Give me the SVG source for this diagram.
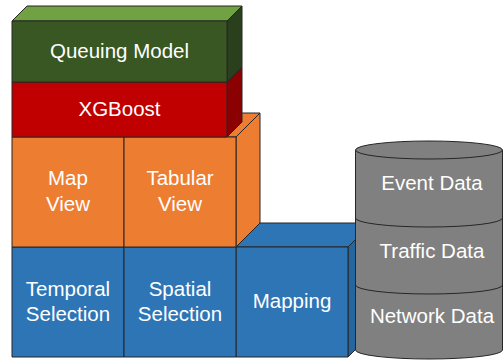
<svg xmlns="http://www.w3.org/2000/svg" width="503" height="362" viewBox="0 0 503 362">
<style>
.s{stroke:#262626;stroke-width:1;stroke-linejoin:round}
.t{font-family:"Liberation Sans",Arial,Helvetica,sans-serif;font-size:20.5px;fill:#ffffff;text-anchor:middle}
</style>
<rect width="503" height="362" fill="#ffffff"/>
<g id="mapping">
<polygon class="s" points="236,247 260,223 380,223 356,247" fill="#2e75b6"/>
<polygon class="s" points="348,247 372,223 372,333 348,357" fill="#2565a0"/>
<rect class="s" x="236" y="247" width="112" height="110" fill="#2e75b6"/>
<text class="t" x="292" y="308">Mapping</text>
</g>
<g id="temporal-selection">
<rect class="s" x="12" y="247" width="112" height="110" fill="#2e75b6"/>
<text class="t" x="68" y="296">Temporal</text>
<text class="t" x="68" y="321">Selection</text>
</g>
<g id="spatial-selection">
<rect class="s" x="124" y="247" width="112" height="110" fill="#2e75b6"/>
<text class="t" x="180" y="296">Spatial</text>
<text class="t" x="180" y="321">Selection</text>
</g>
<g id="views-box">
<polygon class="s" points="12,137 36,113 260,113 236,137" fill="#ed7d31"/>
<polygon class="s" points="236,137 260,113 260,223 236,247" fill="#ed7d31"/>
</g>
<g id="map-view">
<rect class="s" x="12" y="137" width="112" height="110" fill="#ed7d31"/>
<text class="t" x="68" y="185">Map</text>
<text class="t" x="68" y="211">View</text>
</g>
<g id="tabular-view">
<rect class="s" x="124" y="137" width="112" height="110" fill="#ed7d31"/>
<text class="t" x="180" y="185">Tabular</text>
<text class="t" x="180" y="211">View</text>
</g>
<g id="xgboost">
<polygon class="s" points="227,82 242,67 242,122 227,137" fill="#8b0000"/>
<rect class="s" x="12" y="82" width="215" height="55" fill="#c00000"/>
<text class="t" x="119.5" y="116">XGBoost</text>
</g>
<g id="queuing-model">
<polygon class="s" points="12,21 27,6 242,6 227,21" fill="#70a143"/>
<polygon class="s" points="227,21 242,6 242,67 227,82" fill="#2a401c"/>
<rect class="s" x="12" y="21" width="215" height="61" fill="#385723"/>
<text class="t" x="119.5" y="58">Queuing Model</text>
</g>
<g id="data-store">
<path class="s" d="M355.5,150 L355.5,350 A73.5,9 0 0 0 502.5,350 L502.5,150 Z" fill="#808080"/>
<ellipse class="s" cx="429" cy="150" rx="73.5" ry="9" fill="#808080"/>
<path class="s" d="M355.5,218 A73.5,9 0 0 0 502.5,218" fill="none"/>
<path class="s" d="M355.5,285 A73.5,9 0 0 0 502.5,285" fill="none"/>
<text class="t" x="432" y="190">Event Data</text>
<text class="t" x="432" y="258">Traffic Data</text>
<text class="t" x="432" y="323">Network Data</text>
</g>
</svg>
